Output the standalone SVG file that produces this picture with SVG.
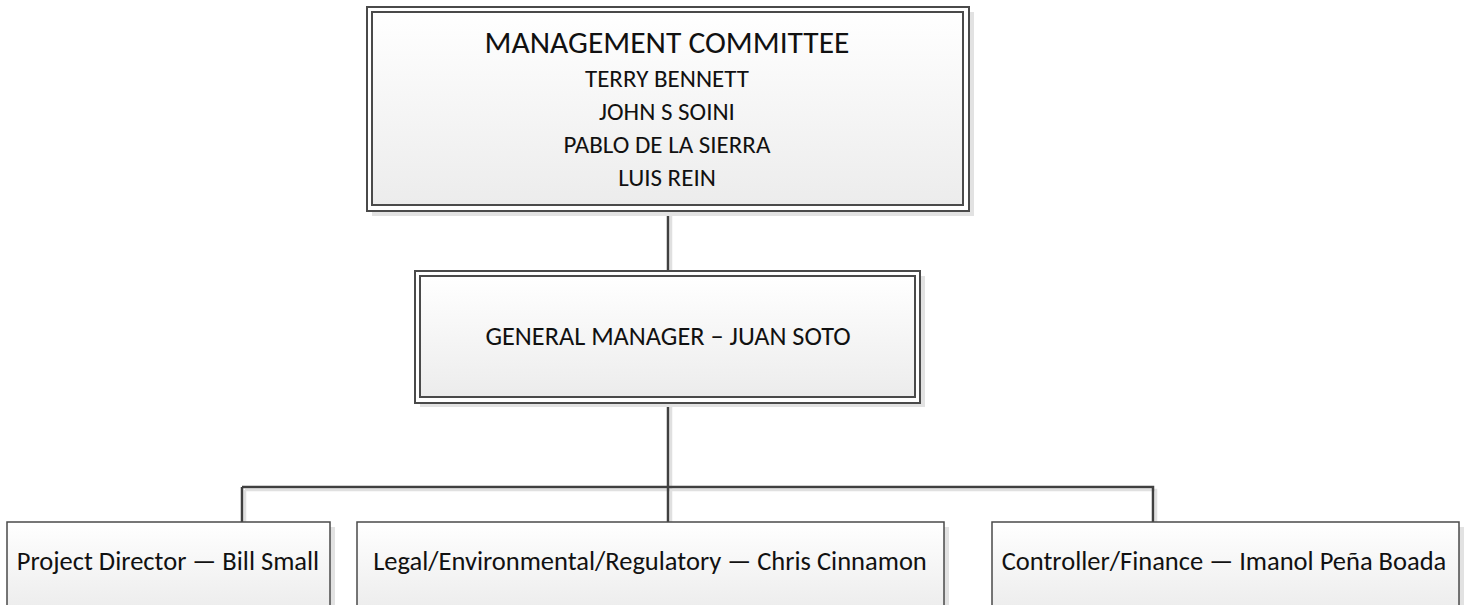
<svg xmlns="http://www.w3.org/2000/svg" width="1469" height="605" viewBox="0 0 1469 605">
  <defs>
    <linearGradient id="boxFill" x1="0" y1="0" x2="0" y2="1">
      <stop offset="0" stop-color="#ffffff"/>
      <stop offset="1" stop-color="#ececec"/>
    </linearGradient>
    <style>
      .shadow { fill: #e2e2e2; }
      .outer { fill: #ffffff; stroke: #4a4a4a; stroke-width: 2; }
      .inner { fill: url(#boxFill); stroke: #4a4a4a; stroke-width: 2; }
      .single { fill: url(#boxFill); stroke: #4a4a4a; stroke-width: 1.5; }
      .wire { fill: none; stroke: #404040; stroke-width: 2.5; }
      .wireShadow { fill: none; stroke: #e0e0e0; stroke-width: 2.5; }
      .t { font-family: Carlito, "Open Sans", "Liberation Sans", sans-serif; fill: #111111; text-anchor: middle; }
    </style>
  </defs>
  <rect width="1469" height="605" fill="#ffffff"/>

  <!-- connectors -->
  <g id="connectors">
    <path class="wireShadow" d="M671 214 V274 M671 406 V490 M245 490 H1156 V526 M245 490 V526 M671 490 V526"/>
    <path class="wire" d="M668 211 V271 M668 403 V487 M242 487 H1153 V522 M242 487 V522 M668 487 V522"/>
  </g>

  <!-- management committee -->
  <g id="management-committee">
    <rect class="shadow" x="372" y="12" width="602" height="204"/>
    <rect class="outer" x="367" y="7" width="602" height="204"/>
    <rect class="inner" x="372" y="12" width="591" height="193"/>
    <text class="t" x="667" y="53" font-size="31.5">MANAGEMENT COMMITTEE</text>
    <text class="t" x="667" y="87" font-size="25">TERRY BENNETT</text>
    <text class="t" x="667" y="120" font-size="25">JOHN S SOINI</text>
    <text class="t" x="667" y="153" font-size="25">PABLO DE LA SIERRA</text>
    <text class="t" x="667" y="186" font-size="25">LUIS REIN</text>
  </g>

  <!-- general manager -->
  <g id="general-manager">
    <rect class="shadow" x="420" y="276" width="505" height="131"/>
    <rect class="outer" x="415" y="271" width="505" height="132"/>
    <rect class="inner" x="420" y="276" width="495" height="121"/>
    <text class="t" x="668" y="345" font-size="26.3">GENERAL MANAGER – JUAN SOTO</text>
  </g>

  <!-- project director -->
  <g id="project-director">
    <rect class="shadow" x="12" y="527" width="323" height="90"/>
    <rect class="single" x="7" y="522" width="323" height="90"/>
    <text class="t" x="168" y="570" font-size="26.5">Project Director — Bill Small</text>
  </g>

  <!-- legal / environmental / regulatory -->
  <g id="legal">
    <rect class="shadow" x="362" y="527" width="587" height="90"/>
    <rect class="single" x="357" y="522" width="587" height="90"/>
    <text class="t" x="650" y="570" font-size="26.5">Legal/Environmental/Regulatory — Chris Cinnamon</text>
  </g>

  <!-- controller / finance -->
  <g id="controller">
    <rect class="shadow" x="997" y="527" width="467" height="90"/>
    <rect class="single" x="992" y="522" width="467" height="90"/>
    <text class="t" x="1224" y="570" font-size="26.5">Controller/Finance — Imanol Peña Boada</text>
  </g>
</svg>
